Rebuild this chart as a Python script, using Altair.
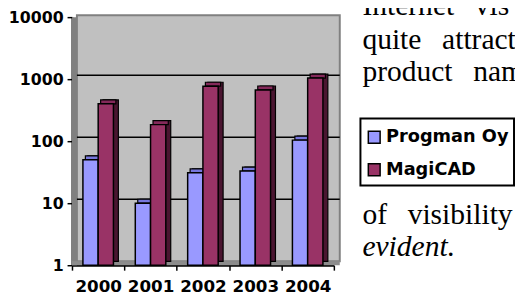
import altair as alt
import pandas as pd

# ---- data ----
years = ["2000", "2001", "2002", "2003", "2004"]
series = ["Progman Oy", "MagiCAD"]
progman = [50, 10, 31, 33, 104]
magicad = [400, 185, 770, 670, 1040]
y_ticks = [1, 10, 100, 1000, 10000]

front_colors = ["#9999FF", "#993366"]
top_colors = ["#7777DD", "#84295A"]
side_colors = ["#5C5CB0", "#4A1530"]

text_lines = [
    "Internet\u00a0\u00a0\u2009vis",
    "quite\u00a0\u00a0\u2009attract",
    "product\u00a0\u00a0\u2009nam",
    "of\u00a0\u00a0\u2009visibility",
    "evident.",
]

# ---- tables ----
values = [progman, magicad]
bars_df = pd.DataFrame(
    [
        {"year": y, "series": s, "value": v, "base": 1}
        for s, vals in zip(series, values)
        for y, v in zip(years, vals)
    ]
)
grid_df = pd.DataFrame({"v": y_ticks[1:-1]})
one = pd.DataFrame({"k": [0]})

FONT = "DejaVu Sans"

y_scale = alt.Scale(type="log", domain=[y_ticks[0], y_ticks[-1]], nice=False)
x_scale = alt.Scale(domain=years, paddingInner=0, paddingOuter=0)

y_axis = alt.Axis(
    values=y_ticks, format="d", grid=False, labelFont=FONT,
    labelFontWeight="bold", labelFontSize=16, labelColor="black",
    tickColor="black", tickSize=5, tickWidth=1.5, domainColor="black",
    domainWidth=2, labelPadding=4, title=None,
)
x_axis = alt.Axis(
    labelAngle=0, labelFont=FONT, labelFontWeight="bold", labelFontSize=17,
    labelColor="black", tickBand="extent", tickColor="black", tickSize=5,
    tickWidth=1.5, domainColor="black", domainWidth=2, labelPadding=9, title=None,
)


def X():
    return alt.X("year:O", scale=x_scale, sort=years, axis=x_axis)


def Y(field):
    return alt.Y(field, scale=y_scale, axis=y_axis)


def Yd(v):
    return alt.Y(datum=v, scale=y_scale, axis=y_axis)


# ---- 3D walls ----
back_wall = alt.Chart(one).mark_rect(
    fill="#C0C0C0", stroke="#808080", strokeWidth=2, yOffset=-2, y2Offset=-4
).encode(
    x=alt.value(5), x2=alt.value(272),
    y=Yd(y_ticks[-1]), y2=alt.Y2(datum=y_ticks[0]),
)
left_wall = alt.Chart(one).mark_rect(fill="#808080").encode(
    x=alt.value(0), x2=alt.value(5),
    y=Yd(y_ticks[-1]), y2=alt.Y2(datum=y_ticks[0]),
)
floor = alt.Chart(one).mark_rect(fill="#8C8C8C", yOffset=-4).encode(
    x=alt.value(0), x2=alt.value(272),
    y=Yd(y_ticks[0]), y2=alt.Y2(datum=y_ticks[0]),
)
grid = alt.Chart(grid_df).mark_rule(color="black", strokeWidth=1.5, yOffset=-4).encode(
    x=alt.value(5), x2=alt.value(272),
    y=Y("v:Q"),
)

# ---- bars ----
BW = 15.5
offsets = [-7.75, 7.75]
bar_layers = []
for i, s in enumerate(series):
    d = bars_df[bars_df["series"] == s]
    side = alt.Chart(d).mark_bar(
        width=BW, xOffset=offsets[i] + 5, yOffset=-4, y2Offset=-4,
        fill=side_colors[i], stroke="black", strokeWidth=1.2,
    ).encode(x=X(), y=Y("value:Q"), y2="base:Q")
    top = alt.Chart(d).mark_bar(
        width=BW, xOffset=offsets[i] + 2.5, yOffset=-4, y2Offset=0,
        fill=top_colors[i], stroke="black", strokeWidth=1.2,
    ).encode(x=X(), y=Y("value:Q"), y2="value:Q")
    front = alt.Chart(d).mark_bar(
        width=BW, xOffset=offsets[i], fill=front_colors[i],
        stroke="black", strokeWidth=1.5,
    ).encode(x=X(), y=Y("value:Q"), y2="base:Q")
    bar_layers += [side, top, front]

# ---- legend (drawn) ----
legend_layers = [
    alt.Chart(one).mark_rect(fill="white", stroke="black", strokeWidth=2).encode(
        x=alt.value(293), x2=alt.value(449), y=alt.value(103), y2=alt.value(171)
    )
]
legend_rows = [122, 155]
for i, s in enumerate(series):
    cy = legend_rows[i]
    legend_layers.append(
        alt.Chart(one).mark_rect(fill=front_colors[i], stroke="black", strokeWidth=1.5).encode(
            x=alt.value(301), x2=alt.value(313), y=alt.value(cy - 6), y2=alt.value(cy + 6)
        )
    )
    legend_layers.append(
        alt.Chart(pd.DataFrame({"t": [s]})).mark_text(
            align="left", baseline="middle", font=FONT, fontWeight="bold",
            fontSize=18, color="black",
        ).encode(x=alt.value(319), y=alt.value(cy), text="t:N")
    )

# ---- surrounding document text ----
baselines = [-2, 32, 65, 210, 243]
text_layers = []
for i, line in enumerate(text_lines):
    text_layers.append(
        alt.Chart(pd.DataFrame({"t": [line]})).mark_text(
            align="left", baseline="alphabetic", font="Liberation Serif",
            fontSize=30, color="black",
            fontStyle="italic" if i == len(text_lines) - 1 else "normal",
        ).encode(x=alt.value(295), y=alt.value(baselines[i]), text="t:N")
    )

chart = alt.layer(
    back_wall, left_wall, floor, grid, *bar_layers, *legend_layers, *text_layers
).properties(
    width=266,
    height=252,
    autosize=alt.AutoSizeParams(type="none"),
    padding={"left": 65, "top": 7, "right": 184, "bottom": 31},
    background="white",
).configure_view(stroke=None)

chart.save("out.html", embed_options={"renderer": "svg", "actions": False})
